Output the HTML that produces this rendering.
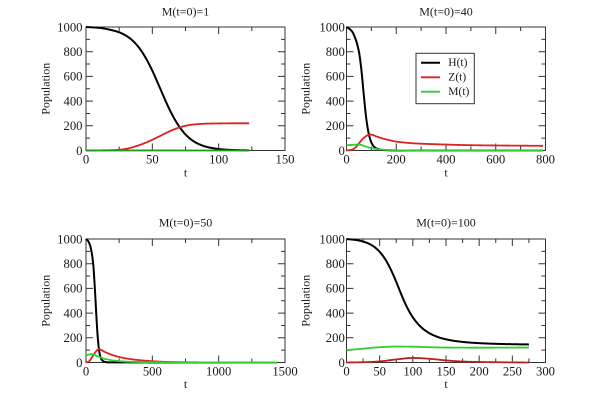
<!DOCTYPE html>
<html><head><meta charset="utf-8"><style>
html,body{margin:0;padding:0;background:#fff;}
svg{display:block;}
text{font-family:"Liberation Serif",serif;fill:#1a1a1a;}
.tk{font-size:12.7px;}
.ti{font-size:12px;}
.lg{font-size:11.5px;}
</style></head><body>
<svg width="610" height="401" viewBox="0 0 610 401" xmlns="http://www.w3.org/2000/svg" font-family="Liberation Serif, serif">
<rect width="610" height="401" fill="#fff"/>

<!-- Panel 1 -->
<g transform="translate(86,27)">
 <rect x="0" y="0" width="199" height="123.5" fill="none" stroke="#333" stroke-width="1"/>
 <path fill="none" stroke="#333" stroke-width="1" d="M0 12.35h4M0 24.7h7M0 37.05h4M0 49.4h7M0 61.75h4M0 74.1h7M0 86.45h4M0 98.8h7M0 111.15h4M199 12.35h-4M199 24.7h-7M199 37.05h-4M199 49.4h-7M199 61.75h-4M199 74.1h-7M199 86.45h-4M199 98.8h-7M199 111.15h-4M33.17 0v4M66.33 0v7M99.5 0v4M132.67 0v7M165.83 0v4M33.17 123.5v-4M66.33 123.5v-7M99.5 123.5v-4M132.67 123.5v-7M165.83 123.5v-4"/>
 <svg x="0" y="0" width="199" height="123.5" viewBox="0 0 150 1000" preserveAspectRatio="none" overflow="visible">
  <polyline class="c" vector-effect="non-scaling-stroke" fill="none" stroke="#000" stroke-width="2" stroke-linejoin="round" points="0,0 10,7 20,27 25,43 30,69 35,109 40,168 45,250 50,354 55,475 60,599 65,711 70,802 75,870 80,917 85,948 90,968 95,980 100,988 105,993 110,995.5 115,997.3 123,998.8"/>
  <polyline class="c" vector-effect="non-scaling-stroke" fill="none" stroke="#dd2222" stroke-width="1.8" stroke-linejoin="round" points="0,1000 10,999 20,997 25,994 30,987 35,974 40,957 45,937 50,913 55,887 60,860 65,835 70,815 75,800 80,791 85,786 90,783 100,781 110,780 123,780"/>
  <polyline vector-effect="non-scaling-stroke" fill="none" stroke="#1f9a1f" stroke-width="1.8" points="0,999 20,999.5 123,1000"/>
 </svg>
</g>
<text class="ti" x="185.5" y="15.5" text-anchor="middle">M(t=0)=1</text>
<text class="ti" transform="translate(49.3,88.75) rotate(-90)" text-anchor="middle">Population</text>
<text class="ti" x="185.5" y="176.7" text-anchor="middle">t</text>
<g class="tk" text-anchor="end">
 <text x="82.5" y="31.3">1000</text><text x="82.5" y="56">800</text><text x="82.5" y="80.7">600</text><text x="82.5" y="105.4">400</text><text x="82.5" y="130.1">200</text><text x="82.5" y="154.8">0</text>
</g>
<g class="tk" text-anchor="middle">
 <text x="86" y="163.3">0</text><text x="152.33" y="163.3">50</text><text x="218.67" y="163.3">100</text><text x="285" y="163.3">150</text>
</g>

<!-- Panel 2 -->
<g transform="translate(346.5,27)">
 <rect x="0" y="0" width="199" height="123.5" fill="none" stroke="#333" stroke-width="1"/>
 <path fill="none" stroke="#333" stroke-width="1" d="M0 12.35h4M0 24.7h7M0 37.05h4M0 49.4h7M0 61.75h4M0 74.1h7M0 86.45h4M0 98.8h7M0 111.15h4M199 12.35h-4M199 24.7h-7M199 37.05h-4M199 49.4h-7M199 61.75h-4M199 74.1h-7M199 86.45h-4M199 98.8h-7M199 111.15h-4M24.875 0v4M49.75 0v7M74.625 0v4M99.5 0v7M124.375 0v4M149.25 0v7M174.125 0v4M24.875 123.5v-4M49.75 123.5v-7M74.625 123.5v-4M99.5 123.5v-7M124.375 123.5v-4M149.25 123.5v-7M174.125 123.5v-4"/>
 <svg x="0" y="0" width="199" height="123.5" viewBox="0 0 800 1000" preserveAspectRatio="none" overflow="visible">
  <polyline class="c" vector-effect="non-scaling-stroke" fill="none" stroke="#000" stroke-width="2" stroke-linejoin="round" points="0,0 20,30 35,90 50,200 60,350 70,560 80,750 90,870 100,935 110,968 125,987 150,996 200,999.5 790,1000"/>
  <polyline class="c" vector-effect="non-scaling-stroke" fill="none" stroke="#dd2222" stroke-width="1.8" stroke-linejoin="round" points="0,1000 20,995 30,985 40,968 50,943 60,918 70,897 80,882 90,873 97,871 105,874 120,886 150,905 170,915 200,928 235,936 270,942 370,950 500,957 640,960 790,962"/>
  <polyline class="c" vector-effect="non-scaling-stroke" fill="none" stroke="#33cc33" stroke-width="1.8" stroke-linejoin="round" points="0,958 25,954 45,952 55,953 70,963 85,973 100,981 125,989 150,994 180,997 220,999 300,1000 790,1000"/>
 </svg>
</g>
<rect x="416" y="53.3" width="58.3" height="50.4" fill="#fff" stroke="#333" stroke-width="1"/>
<line x1="421" y1="62.7" x2="440" y2="62.7" stroke="#000" stroke-width="2"/>
<line x1="421" y1="77.3" x2="440" y2="77.3" stroke="#dd2222" stroke-width="1.8"/>
<line x1="421" y1="91.7" x2="440" y2="91.7" stroke="#33cc33" stroke-width="1.8"/>
<text class="lg" x="448.3" y="66">H(t)</text>
<text class="lg" x="448.3" y="80.6">Z(t)</text>
<text class="lg" x="448.3" y="95">M(t)</text>
<text class="ti" x="446" y="15.5" text-anchor="middle">M(t=0)=40</text>
<text class="ti" transform="translate(309.6,88.75) rotate(-90)" text-anchor="middle">Population</text>
<text class="ti" x="446" y="176.7" text-anchor="middle">t</text>
<g class="tk" text-anchor="end">
 <text x="344.8" y="31.3">1000</text><text x="344.8" y="56">800</text><text x="344.8" y="80.7">600</text><text x="344.8" y="105.4">400</text><text x="344.8" y="130.1">200</text><text x="344.8" y="154.8">0</text>
</g>
<g class="tk" text-anchor="middle">
 <text x="346.5" y="163.3">0</text><text x="396.25" y="163.3">200</text><text x="446" y="163.3">400</text><text x="495.75" y="163.3">600</text><text x="545.5" y="163.3">800</text>
</g>

<!-- Panel 3 -->
<g transform="translate(86,239)">
 <rect x="0" y="0" width="199" height="123.5" fill="none" stroke="#333" stroke-width="1"/>
 <path fill="none" stroke="#333" stroke-width="1" d="M0 12.35h4M0 24.7h7M0 37.05h4M0 49.4h7M0 61.75h4M0 74.1h7M0 86.45h4M0 98.8h7M0 111.15h4M199 12.35h-4M199 24.7h-7M199 37.05h-4M199 49.4h-7M199 61.75h-4M199 74.1h-7M199 86.45h-4M199 98.8h-7M199 111.15h-4M33.17 0v4M66.33 0v7M99.5 0v4M132.67 0v7M165.83 0v4M33.17 123.5v-4M66.33 123.5v-7M99.5 123.5v-4M132.67 123.5v-7M165.83 123.5v-4"/>
 <svg x="0" y="0" width="199" height="123.5" viewBox="0 0 1500 1000" preserveAspectRatio="none" overflow="visible">
  <polyline class="c" vector-effect="non-scaling-stroke" fill="none" stroke="#000" stroke-width="2" stroke-linejoin="round" points="0,0 15,15 30,50 42,105 55,210 65,370 75,560 85,745 95,870 105,940 120,980 140,994 170,999 1440,1000"/>
  <polyline class="c" vector-effect="non-scaling-stroke" fill="none" stroke="#dd2222" stroke-width="1.8" stroke-linejoin="round" points="0,1000 20,992 35,975 55,941 80,905 97,892 115,898 130,908 180,932 230,950 330,972 455,986 605,995 800,998.5 1440,1000"/>
  <polyline class="c" vector-effect="non-scaling-stroke" fill="none" stroke="#33cc33" stroke-width="1.8" stroke-linejoin="round" points="0,942 20,936 42,932 60,936 80,946 105,956 130,967 180,979 205,984 260,990 330,994 450,997 600,998.5 1440,999"/>
 </svg>
</g>
<text class="ti" x="185.5" y="226.5" text-anchor="middle">M(t=0)=50</text>
<text class="ti" transform="translate(49.3,300.75) rotate(-90)" text-anchor="middle">Population</text>
<text class="ti" x="185.5" y="388" text-anchor="middle">t</text>
<g class="tk" text-anchor="end">
 <text x="82.5" y="243.3">1000</text><text x="82.5" y="268">800</text><text x="82.5" y="292.7">600</text><text x="82.5" y="317.4">400</text><text x="82.5" y="342.1">200</text><text x="82.5" y="366.8">0</text>
</g>
<g class="tk" text-anchor="middle">
 <text x="86" y="375.3">0</text><text x="152.33" y="375.3">500</text><text x="218.67" y="375.3">1000</text><text x="285" y="375.3">1500</text>
</g>

<!-- Panel 4 -->
<g transform="translate(346.5,239)">
 <rect x="0" y="0" width="199" height="123.5" fill="none" stroke="#333" stroke-width="1"/>
 <path fill="none" stroke="#333" stroke-width="1" d="M0 12.35h4M0 24.7h7M0 37.05h4M0 49.4h7M0 61.75h4M0 74.1h7M0 86.45h4M0 98.8h7M0 111.15h4M199 12.35h-4M199 24.7h-7M199 37.05h-4M199 49.4h-7M199 61.75h-4M199 74.1h-7M199 86.45h-4M199 98.8h-7M199 111.15h-4M16.58 0v4M33.17 0v7M49.75 0v4M66.33 0v7M82.92 0v4M99.5 0v7M116.08 0v4M132.67 0v7M149.25 0v4M165.83 0v7M182.42 0v4M16.58 123.5v-4M33.17 123.5v-7M49.75 123.5v-4M66.33 123.5v-7M82.92 123.5v-4M99.5 123.5v-7M116.08 123.5v-4M132.67 123.5v-7M149.25 123.5v-4M165.83 123.5v-7M182.42 123.5v-4"/>
 <svg x="0" y="0" width="199" height="123.5" viewBox="0 0 300 1000" preserveAspectRatio="none" overflow="visible">
  <polyline class="c" vector-effect="non-scaling-stroke" fill="none" stroke="#000" stroke-width="2" stroke-linejoin="round" points="0,0.5 10,5.1 20,13.7 25,20.4 30,29.3 35,41.2 40,56.9 45,77.5 50,104 55,137.3 60,178.4 65,227.6 70,284.4 75,347.4 80,414 85,479.7 90,538.9 95,590.4 100,634.2 105,670.5 110,700.8 120,746.1 130,776.7 145,805.7 165,826.8 190,840.1 220,847.9 250,851.9 275,853.8"/>
  <polyline class="c" vector-effect="non-scaling-stroke" fill="none" stroke="#b82020" stroke-width="1.8" stroke-linejoin="round" points="0,1000 25,998 50,991 75,975 100,963 125,970 150,983 175,992 200,996 250,999 275,1000"/>
  <polyline class="c" vector-effect="non-scaling-stroke" fill="none" stroke="#33cc33" stroke-width="1.8" stroke-linejoin="round" points="0,900 25,888 50,876 75,871 100,872 125,876 150,879 200,880 275,879"/>
 </svg>
</g>
<text class="ti" x="446" y="226.5" text-anchor="middle">M(t=0)=100</text>
<text class="ti" transform="translate(309.6,300.75) rotate(-90)" text-anchor="middle">Population</text>
<text class="ti" x="446" y="388" text-anchor="middle">t</text>
<g class="tk" text-anchor="end">
 <text x="344.8" y="243.3">1000</text><text x="344.8" y="268">800</text><text x="344.8" y="292.7">600</text><text x="344.8" y="317.4">400</text><text x="344.8" y="342.1">200</text><text x="344.8" y="366.8">0</text>
</g>
<g class="tk" text-anchor="middle">
 <text x="346.5" y="375.3">0</text><text x="379.67" y="375.3">50</text><text x="412.83" y="375.3">100</text><text x="446" y="375.3">150</text><text x="479.17" y="375.3">200</text><text x="512.33" y="375.3">250</text><text x="545.5" y="375.3">300</text>
</g>
</svg>
<script>
(function(){
 var pls=document.querySelectorAll('polyline.c');
 for(var q=0;q<pls.length;q++){
  var pl=pls[q];
  var raw=pl.getAttribute('points').trim().split(/\s+/);
  var x=[],y=[];
  for(var i=0;i<raw.length;i++){var a=raw[i].split(',');x.push(+a[0]);y.push(+a[1]);}
  var n=x.length; if(n<3) continue;
  var d=[],m=[];
  for(i=0;i<n-1;i++) d.push((y[i+1]-y[i])/(x[i+1]-x[i]));
  m[0]=d[0]; m[n-1]=d[n-2];
  for(i=1;i<n-1;i++){
   if(d[i-1]*d[i]<=0){m[i]=0;}
   else{var h1=x[i+1]-x[i],h0=x[i]-x[i-1];var w1=2*h1+h0,w2=h1+2*h0;m[i]=(w1+w2)/(w1/d[i-1]+w2/d[i]);}
  }
  var out=[],N=500,x0=x[0],x1=x[n-1],k=0;
  for(var j=0;j<=N;j++){
   var t=x0+(x1-x0)*j/N;
   while(k<n-2&&t>x[k+1])k++;
   var h=x[k+1]-x[k],s=(t-x[k])/h,s2=s*s,s3=s2*s;
   var v=(2*s3-3*s2+1)*y[k]+(s3-2*s2+s)*h*m[k]+(-2*s3+3*s2)*y[k+1]+(s3-s2)*h*m[k+1];
   out.push(t.toFixed(3)+','+v.toFixed(2));
  }
  pl.setAttribute('points',out.join(' '));
 }
})();
</script>
</body></html>
